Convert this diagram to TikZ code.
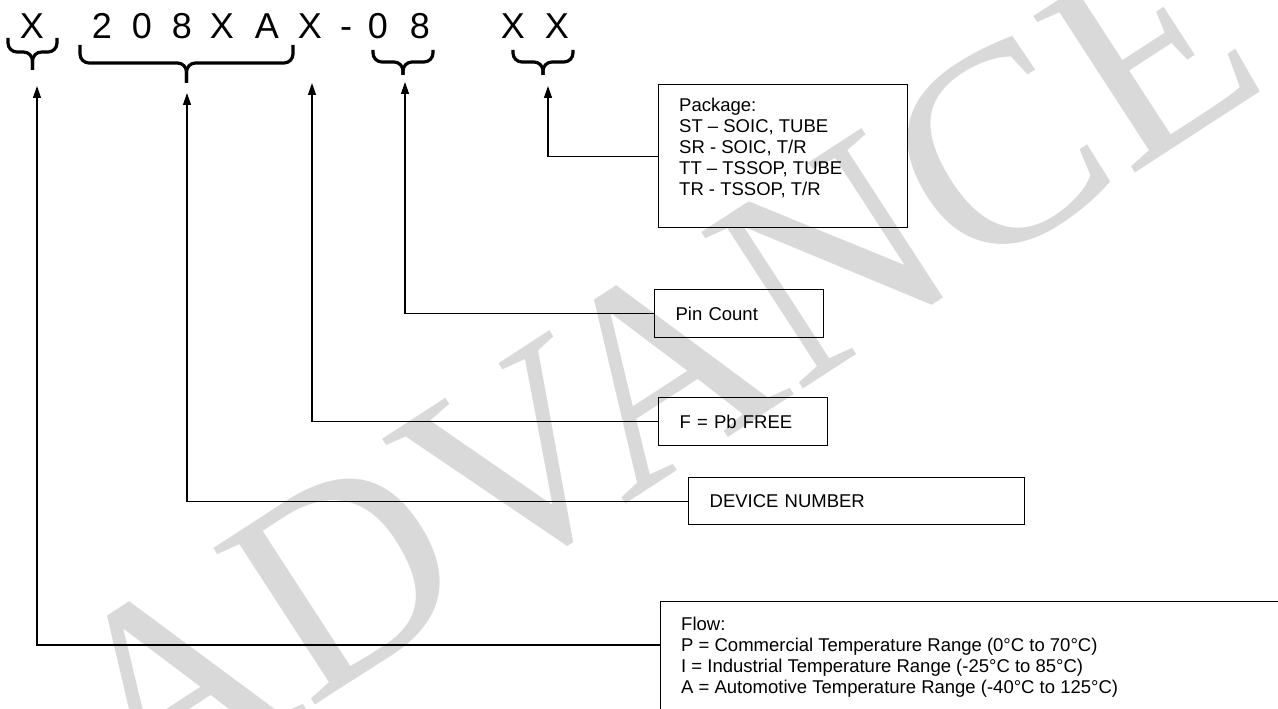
\documentclass[tikz,border=0pt]{standalone}
\usepackage{fontspec}
\setmainfont{Liberation Sans}
\newfontfamily\wmfont{Liberation Serif}
\usetikzlibrary{arrows.meta, positioning}

\begin{document}
\begin{tikzpicture}[x=1pt, y=-1pt,
  box/.style={draw, line width=1.3pt, inner xsep=21pt, align=left, anchor=north west,
    font=\fontsize{18.5}{21}\selectfont},
  txt/.style={inner sep=0pt, align=left, anchor=north west, font=\fontsize{18.5}{21}\selectfont},
  brc/.style={line width=3.2pt, rounded corners=9pt},
  arr/.style={line width=1.3pt, -{Triangle[length=12pt, width=8pt]}},
  ttl/.style={anchor=base, inner sep=0pt, font=\fontsize{36}{40}\selectfont}]
\useasboundingbox (0,0) rectangle (1278,709);
\clip (0,0) rectangle (1278,709);
% Watermark
\node[black!15, rotate=33, font=\wmfont\fontsize{285}{285}\selectfont] (wm) at (655,375) {ADVANCE};
% Part number
\foreach \x/\c [count=\i] in {32/X, 102/2, 142/0, 182/8, 222/X, 267/A, 310/X, 346/-, 378/0, 420/8, 513/X, 557/X}
  \node[ttl] (c\i) at (\x,39) {\c};
% Braces
\foreach \xl/\xr/\yt/\yh/\yp in {8/57/38/52/70, 80/293/45/63/83, 373/433/50/62/75, 513/573/50/62/75} {
  \pgfmathsetmacro\xc{(\xl+\xr)/2}
  \draw[brc] (\xl,\yt) -- (\xl,\yh) -- (\xc,\yh) -- (\xc,\yp);
  \draw[brc] (\xr,\yt) -- (\xr,\yh) -- (\xc,\yh) -- (\xc,\yp);
}
% Arrow tips
\coordinate (t1) at (37,86);
\coordinate (t2) at (187,93);
\coordinate (t3) at (312,83);
\coordinate (t4) at (405,82);
\coordinate (t5) at (548,86);
% Boxes
\node[box, text width=207pt, minimum height=143pt] (pkg) at (658,84) {};
\node[txt] (pkgtxt) at (679,98) {Package:\\ST – SOIC, TUBE\\SR - SOIC, T/R\\TT – TSSOP, TUBE\\TR - TSSOP, T/R};
\node[box, text width=127pt, minimum height=48pt] (pin) at (654,289) {Pin Count};
\node[box, text width=127pt, minimum height=48pt] (pbf) at (658,397) {F = Pb FREE};
\node[box, text width=294pt, minimum height=47pt] (dev) at (688,477) {DEVICE NUMBER};
\node[box, text width=600pt, minimum height=160pt] (flow) at (660,601) {};
\node[txt] (flowtxt) at (681,617) {Flow:\\P = Commercial Temperature Range (0°C to 70°C)\\I = Industrial Temperature Range (-25°C to 85°C)\\A = Automotive Temperature Range (-40°C to 125°C)};
% Connectors
\draw[arr] (pkg.west) -| (t5);
\draw[arr] (pin.west) -| (t4);
\draw[arr] (pbf.west) -| (t3);
\draw[arr] (dev.west) -| (t2);
\draw[arr] ([yshift=-44pt]flow.north west) -| (t1);
\end{tikzpicture}
\end{document}
